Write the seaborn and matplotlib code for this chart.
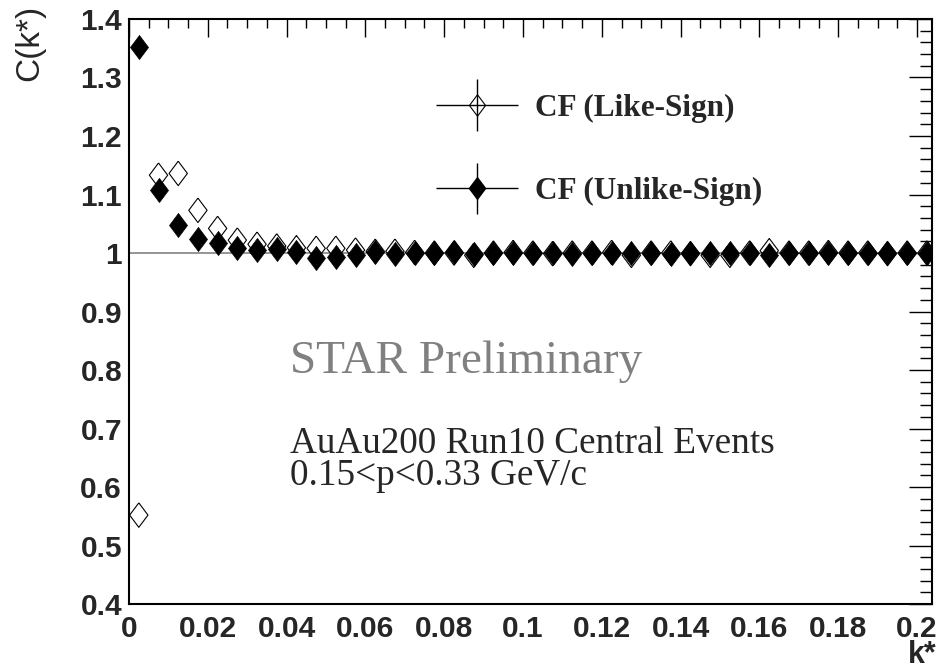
import numpy as np
import matplotlib
matplotlib.use("Agg")
import matplotlib.pyplot as plt
import seaborn as sns
from matplotlib.container import ErrorbarContainer
from matplotlib.legend_handler import HandlerErrorbar
from matplotlib.ticker import MultipleLocator, FuncFormatter

# ---- data ----
k_star = np.arange(41) * 0.005 + 0.0025   # bin centres, 0.005 wide bins

cf_like = [0.552, 1.133, 1.136, 1.073, 1.042, 1.022, 1.015, 1.012, 1.009, 1.008,
           1.008, 1.005, 1.003, 1.003, 1.001, 1.000, 1.000, 0.996, 1.000, 1.001,
           1.000, 0.999, 1.000, 1.000, 1.001, 0.996, 1.000, 1.000, 0.999, 0.996,
           0.996, 1.000, 1.004, 1.000, 1.000, 1.001, 1.000, 1.000, 0.999, 1.000,
           1.000]

cf_unlike = [1.352, 1.108, 1.048, 1.024, 1.017, 1.008, 1.005, 1.006, 1.002, 0.991,
             0.993, 0.997, 1.001, 0.999, 1.000, 1.000, 1.001, 0.999, 1.000, 1.000,
             1.000, 1.000, 0.999, 1.000, 1.000, 1.000, 1.000, 0.999, 1.000, 1.000,
             1.000, 1.000, 0.996, 1.000, 1.000, 1.000, 1.000, 1.000, 1.000, 1.000,
             1.000]

labels = ["CF (Like-Sign)", "CF (Unlike-Sign)"]

# ROOT-like diamond (taller than wide)
DIAMOND = [(0, 1), (0.75, 0), (0, -1), (-0.75, 0), (0, 1)]

sns.set_style("white")
plt.rcParams['font.family'] = ['Liberation Sans', 'DejaVu Sans']

fig = plt.figure(figsize=(9.4, 6.71), dpi=100)
ax = fig.add_axes([0.1372, 0.0998, 0.8543, 0.8719])

ax.axhline(1.0, color="#8c8c8c", lw=1.3, zorder=1)

sns.scatterplot(x=k_star, y=cf_like, marker=DIAMOND, s=310, color="black",
                facecolor="none", edgecolor="black", linewidth=0.8, ax=ax, zorder=2)
sns.scatterplot(x=k_star, y=cf_unlike, marker=DIAMOND, s=300, color="black",
                edgecolor="black", linewidth=0.5, ax=ax, zorder=3)

ax.set_xlim(0, 0.2038)
ax.set_ylim(0.4, 1.4)

# ---- ROOT style axes ----
for sp in ax.spines.values():
    sp.set_color("black")
    sp.set_linewidth(1.5)
ax.xaxis.set_major_locator(MultipleLocator(0.02))
ax.xaxis.set_minor_locator(MultipleLocator(0.005))
ax.yaxis.set_major_locator(MultipleLocator(0.1))
ax.yaxis.set_minor_locator(MultipleLocator(0.02))
fmt = FuncFormatter(lambda v, p: f"{v:.2f}".rstrip("0").rstrip(".") if abs(v) > 1e-9 else "0")
ax.xaxis.set_major_formatter(fmt)
ax.yaxis.set_major_formatter(fmt)

ax.tick_params(axis="both", which="both", direction="in", top=True, right=True,
               color="black", width=1)
ax.tick_params(axis="x", which="major", length=13, pad=8)
ax.tick_params(axis="x", which="minor", length=6.5)
ax.tick_params(axis="y", which="major", length=16.5, pad=5)
ax.tick_params(axis="y", which="minor", length=8.6)
for lab in ax.get_xticklabels() + ax.get_yticklabels():
    lab.set_fontweight("bold")
    lab.set_fontsize(21.5)

ax.set_xlabel("k*", fontsize=22, fontweight="bold", ha="right")
ax.xaxis.set_label_coords(1.006, -0.062)
ax.set_ylabel("C(k*)", fontsize=24, ha="right", va="bottom")
ax.yaxis.set_label_coords(-0.104, 1.025)

# ---- legend with error-bar crosses ----
h_like = ax.errorbar([np.nan], [np.nan], xerr=[1], yerr=[1],
                     marker=DIAMOND, ms=15.5, mfc="none", mec="black", mew=0.8,
                     color="black", ecolor="black", elinewidth=1, ls="none")
h_unlike = ax.errorbar([np.nan], [np.nan], xerr=[1], yerr=[1],
                       marker=DIAMOND, ms=15.5, mfc="black", mec="black",
                       color="black", ecolor="black", elinewidth=1, ls="none")
leg = ax.legend([h_like, h_unlike], labels, loc="upper left",
                bbox_to_anchor=(0.381, 0.872), frameon=False, borderpad=0,
                borderaxespad=0, handlelength=2.7, handletextpad=0.5,
                labelspacing=1.74,
                prop={"family": "Liberation Serif", "weight": "bold", "size": 22.5},
                handler_map={ErrorbarContainer: HandlerErrorbar(xerr_size=1.3, yerr_size=0.83)})

# ---- annotations ----
ax.text(0.2005, 0.395, "STAR Preliminary", transform=ax.transAxes, color="#808080",
        fontsize=34, family="Liberation Serif", va="baseline")
ax.text(0.2005, 0.259, "AuAu200 Run10 Central Events", transform=ax.transAxes,
        fontsize=26.8, family="Liberation Serif", va="baseline")
ax.text(0.2005, 0.204, "0.15<p<0.33 GeV/c", transform=ax.transAxes,
        fontsize=26.8, family="Liberation Serif", va="baseline")

fig.savefig("out.png", dpi=100)
